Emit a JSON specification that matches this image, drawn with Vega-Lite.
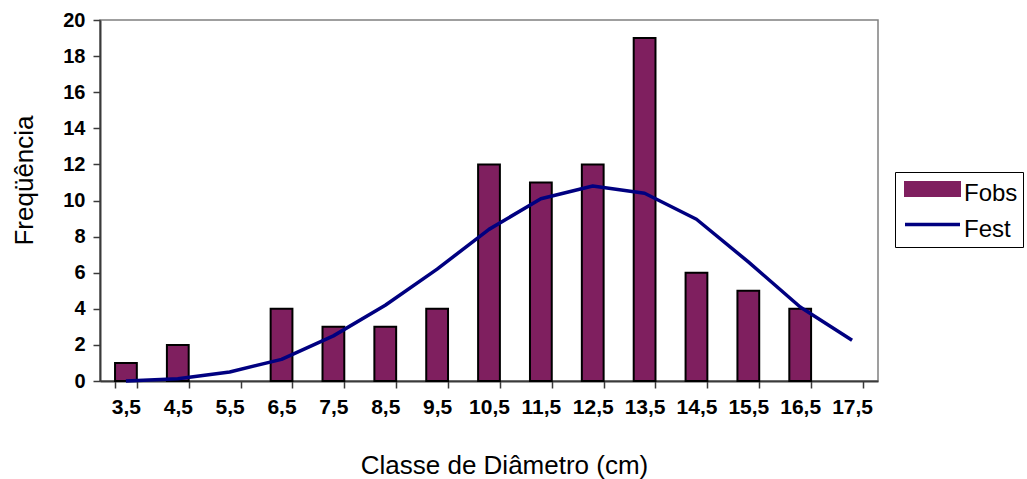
{
  "$schema": "https://vega.github.io/schema/vega-lite/v6.json",
  "width": 778,
  "height": 361,
  "autosize": {"type": "none"},
  "padding": {"left": 100, "top": 20, "right": 149, "bottom": 98},
  "background": "white",
  "config": {
    "font": "Liberation Sans",
    "view": {"stroke": "#808080", "strokeWidth": 1.5},
    "axis": {
      "labelFont": "Liberation Sans",
      "labelFontWeight": "bold",
      "labelColor": "black",
      "titleFont": "Liberation Sans",
      "titleFontWeight": "normal",
      "titleColor": "black",
      "domainColor": "#3a3a3a",
      "domainWidth": 2,
      "tickColor": "#3a3a3a",
      "tickWidth": 1.5,
      "tickSize": 7,
      "grid": false
    },
    "legend": {
      "title": null,
      "orient": "none",
      "legendX": 795,
      "legendY": 152,
      "labelFont": "Liberation Sans",
      "labelFontSize": 24,
      "labelColor": "black",
      "labelOffset": 19.5,
      "symbolOffset": 20.5,
      "symbolSize": 400,
      "rowPadding": 6.5,
      "padding": 5,
      "strokeColor": "black",
      "fillColor": "white"
    }
  },
  "data": {
    "values": [
      {"classe": "3,5", "Fobs": 1, "Fest": 0.0},
      {"classe": "4,5", "Fobs": 2, "Fest": 0.13},
      {"classe": "5,5", "Fobs": 0, "Fest": 0.5},
      {"classe": "6,5", "Fobs": 4, "Fest": 1.2},
      {"classe": "7,5", "Fobs": 3, "Fest": 2.5},
      {"classe": "8,5", "Fobs": 3, "Fest": 4.2},
      {"classe": "9,5", "Fobs": 4, "Fest": 6.2},
      {"classe": "10,5", "Fobs": 12, "Fest": 8.4},
      {"classe": "11,5", "Fobs": 11, "Fest": 10.1},
      {"classe": "12,5", "Fobs": 12, "Fest": 10.8},
      {"classe": "13,5", "Fobs": 19, "Fest": 10.4},
      {"classe": "14,5", "Fobs": 6, "Fest": 8.96},
      {"classe": "15,5", "Fobs": 5, "Fest": 6.6},
      {"classe": "16,5", "Fobs": 4, "Fest": 4.1},
      {"classe": "17,5", "Fobs": 0, "Fest": 2.26}
    ]
  },
  "encoding": {
    "x": {
      "field": "classe",
      "type": "nominal",
      "sort": ["3,5", "4,5", "5,5", "6,5", "7,5", "8,5", "9,5", "10,5", "11,5", "12,5", "13,5", "14,5", "15,5", "16,5", "17,5"],
      "scale": {"paddingInner": 0.58, "paddingOuter": 0.29},
      "axis": {
        "title": "Classe de Diâmetro (cm)",
        "labelAngle": 0,
        "labelFontSize": 21,
        "labelPadding": 8,
        "titleFontSize": 26,
        "titlePadding": 35,
        "titleX": 404,
        "tickBand": "extent"
      }
    },
    "y": {
      "type": "quantitative",
      "scale": {"domain": [0, 20]},
      "axis": {
        "title": "Freqüência",
        "values": [0, 2, 4, 6, 8, 10, 12, 14, 16, 18, 20],
        "labelOverlap": false,
        "labelFontSize": 20,
        "titleFontSize": 26,
        "labelPadding": 8,
        "titlePadding": 25,
        "titleY": 160
      }
    },
    "color": {
      "type": "nominal",
      "scale": {"domain": ["Fobs", "Fest"], "range": ["#7F1F5F", "#000080"]},
      "legend": {
        "encode": {
          "labels": {
            "update": {
              "dy": {"value": 5}
            }
          },
          "symbols": {
            "update": {
              "shape": {"signal": "datum.value === 'Fobs' ? 'M-2.75,-0.7H2.75V0.7H-2.75Z' : 'M-2.75,0H2.75'"},
              "fill": {"signal": "datum.value === 'Fobs' ? '#7F1F5F' : 'transparent'"},
              "stroke": {"signal": "datum.value === 'Fobs' ? 'black' : '#000080'"},
              "strokeWidth": {"signal": "datum.value === 'Fobs' ? 2 : 3.5"},
              "opacity": {"value": 1}
            }
          }
        }
      }
    }
  },
  "layer": [
    {
      "transform": [{"filter": "datum.Fobs > 0"}],
      "mark": {"type": "bar", "stroke": "black", "strokeWidth": 2},
      "encoding": {
        "y": {"field": "Fobs"},
        "color": {"datum": "Fobs"}
      }
    },
    {
      "mark": {"type": "line", "strokeWidth": 3.5, "strokeJoin": "round"},
      "encoding": {
        "y": {"field": "Fest"},
        "color": {"datum": "Fest"}
      }
    }
  ]
}
